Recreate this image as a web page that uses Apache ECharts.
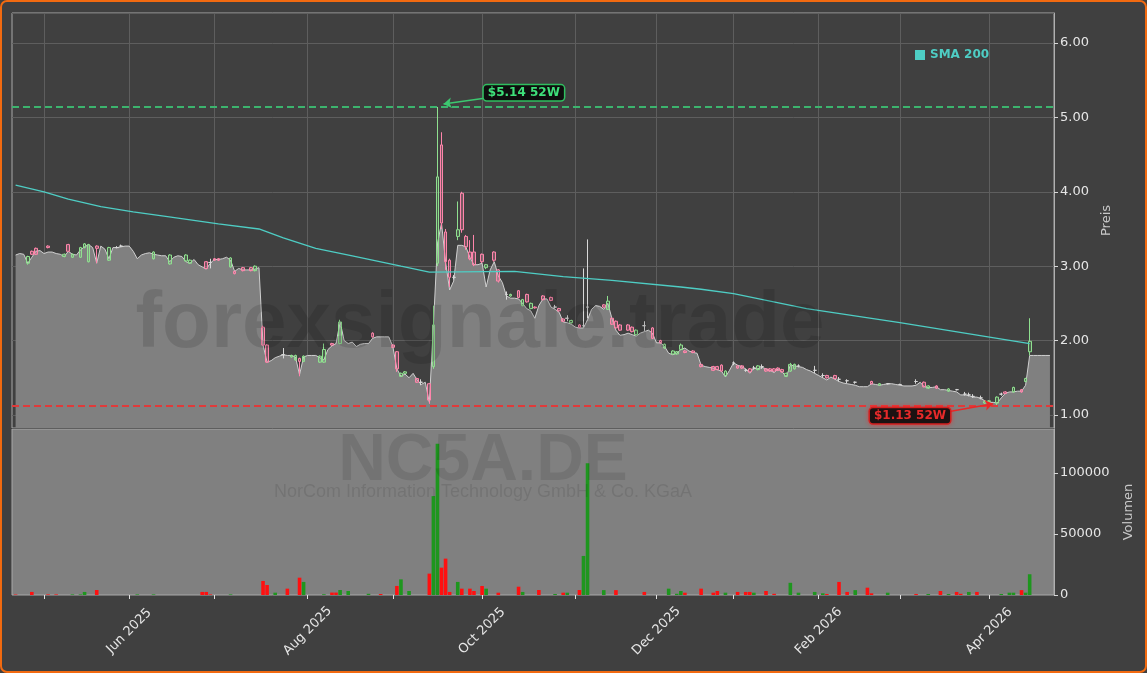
<!DOCTYPE html>
<html>
<head>
<meta charset="utf-8">
<script src="https://cdn.jsdelivr.net/npm/echarts@6/dist/echarts.min.js"></script>
<style>
html,body{margin:0;padding:0;background:#ffffff;}
#chart{width:1147px;height:673px;}
</style>
</head>
<body>
<div id="chart"></div>
<script>
// ---------- DATA ----------
const firstDay = '2025-04-22';
const dayCount = 257;
const holidays = ['2025-05-01','2025-12-24','2025-12-25','2025-12-26','2025-12-31','2026-01-01','2026-04-03','2026-04-06'];
const monthNames = ['Jan','Feb','Mar','Apr','May','Jun','Jul','Aug','Sep','Oct','Nov','Dec'];

// close-price line (area), one value per trading day
const closeLine = [
3.15,3.17,3.16,3.04,3.12,3.20,3.21,3.17,3.19,3.19,
3.17,3.16,3.13,3.20,3.16,3.15,3.22,3.26,3.29,3.25,
3.04,3.27,3.23,3.10,3.25,3.25,3.26,3.27,3.27,3.20,
3.10,3.15,3.17,3.18,3.16,3.15,3.14,3.14,3.06,3.12,
3.14,3.13,3.06,3.04,3.09,3.02,2.99,2.96,3.04,3.09,
3.09,3.10,3.12,3.08,2.93,2.97,2.95,2.95,2.95,2.96,
2.98,1.94,1.71,1.73,1.77,1.79,1.81,1.80,1.80,1.78,
1.54,1.78,1.80,1.80,1.80,1.77,1.74,1.88,1.93,1.96,
2.25,2.00,1.96,1.98,1.92,1.95,1.96,1.96,2.03,2.05,
2.05,2.05,2.05,1.92,1.62,1.52,1.55,1.50,1.56,1.47,
1.41,1.44,1.17,2.20,3.30,3.58,3.06,2.68,2.80,3.28,
3.28,3.26,3.12,3.02,3.02,3.04,2.72,2.95,3.06,2.87,
2.78,2.60,2.57,2.57,2.56,2.50,2.43,2.40,2.30,2.47,
2.56,2.56,2.45,2.42,2.38,2.25,2.24,2.22,2.18,2.17,
2.17,2.28,2.42,2.47,2.46,2.42,2.50,2.30,2.14,2.07,
2.08,2.10,2.08,2.06,2.10,2.12,2.14,2.10,1.97,1.97,
1.92,1.83,1.81,1.83,1.88,1.90,1.86,1.84,1.83,1.67,
1.65,1.64,1.63,1.61,1.59,1.51,1.60,1.70,1.67,1.65,
1.62,1.56,1.63,1.62,1.64,1.62,1.60,1.57,1.62,1.58,
1.51,1.67,1.66,1.65,1.64,1.61,1.59,1.56,1.53,1.50,
1.47,1.51,1.48,1.45,1.43,1.42,1.41,1.40,1.38,1.38,
1.38,1.42,1.41,1.40,1.41,1.42,1.42,1.41,1.40,1.39,
1.39,1.39,1.40,1.44,1.38,1.37,1.37,1.38,1.34,1.34,
1.33,1.32,1.31,1.27,1.27,1.26,1.24,1.24,1.22,1.19,
1.17,1.17,1.16,1.23,1.29,1.31,1.31,1.32,1.32,1.40,
1.80,1.80,1.80,1.80,1.80,1.80
];

// candles: [dayIndex, open, close, low, high]
const ohlc = [
[3,3.04,3.13,3.02,3.14],[4,3.20,3.16,3.15,3.21],[5,3.24,3.16,3.15,3.25],[8,3.27,3.25,3.24,3.28],
[12,3.13,3.16,3.12,3.17],[13,3.29,3.20,3.19,3.30],[14,3.12,3.16,3.11,3.17],[16,3.12,3.25,3.11,3.26],
[17,3.25,3.30,3.24,3.31],[18,3.06,3.29,3.05,3.30],[20,3.27,3.24,3.04,3.28],[23,3.08,3.25,3.07,3.26],
[25,3.25,3.25,3.24,3.27],[26,3.27,3.27,3.26,3.29],[34,3.10,3.19,3.09,3.20],[38,3.03,3.15,3.02,3.16],
[42,3.07,3.15,3.06,3.16],[43,3.04,3.08,3.03,3.09],[47,3.06,2.97,2.96,3.07],[48,3.05,3.05,2.97,3.10],
[49,3.10,3.08,3.07,3.11],[50,3.10,3.08,3.07,3.11],[53,2.99,3.11,2.98,3.12],[54,2.93,2.90,2.89,2.94],
[56,2.98,2.94,2.93,2.99],[58,2.98,2.94,2.93,2.99],[59,2.94,3.00,2.93,3.01],[61,2.18,1.94,1.93,2.20],
[62,1.94,1.71,1.70,1.95],[66,1.81,1.81,1.76,1.90],[68,1.78,1.80,1.77,1.81],[69,1.74,1.80,1.73,1.81],
[70,1.76,1.72,1.52,1.77],[71,1.72,1.79,1.71,1.80],[75,1.71,1.79,1.70,1.80],[76,1.71,1.88,1.70,1.96],
[78,1.96,1.94,1.93,1.97],[80,1.96,2.25,1.95,2.28],[88,2.10,2.05,2.04,2.11],[93,1.94,1.91,1.90,1.95],
[94,1.85,1.62,1.58,1.86],[95,1.52,1.56,1.51,1.57],[96,1.56,1.58,1.55,1.59],[99,1.49,1.44,1.43,1.50],
[100,1.44,1.44,1.40,1.48],[102,1.42,1.20,1.15,1.43],[103,1.65,2.21,1.62,2.47],[104,3.04,4.20,3.00,5.14],
[105,4.63,3.58,3.50,4.80],[106,3.46,3.06,2.95,3.50],[107,3.08,2.85,2.72,3.10],[108,2.85,2.85,2.82,2.88],
[109,3.40,3.49,3.35,3.87],[110,3.98,3.49,3.45,4.00],[111,3.40,3.26,3.22,3.42],[112,3.19,3.10,3.08,3.35],
[113,3.19,3.02,3.00,3.42],[115,3.16,3.06,3.04,3.17],[116,2.98,3.02,2.96,3.03],[118,3.19,3.08,3.06,3.20],
[119,2.95,2.80,2.78,2.96],[121,2.62,2.62,2.55,2.66],[122,2.60,2.62,2.59,2.63],[124,2.67,2.58,2.57,2.68],
[125,2.47,2.55,2.46,2.56],[126,2.62,2.52,2.51,2.63],[127,2.43,2.50,2.42,2.51],[128,2.45,2.44,2.43,2.46],
[130,2.60,2.55,2.54,2.61],[132,2.58,2.54,2.53,2.59],[133,2.45,2.45,2.43,2.48],[134,2.43,2.40,2.39,2.44],
[135,2.29,2.26,2.25,2.30],[136,2.30,2.30,2.26,2.34],[137,2.24,2.27,2.23,2.28],[139,2.21,2.18,2.17,2.22],
[140,2.20,2.20,2.18,2.97],[141,2.45,2.45,2.30,3.36],[145,2.48,2.45,2.44,2.49],[146,2.42,2.53,2.41,2.60],
[147,2.30,2.22,2.21,2.31],[148,2.26,2.17,2.16,2.27],[149,2.21,2.14,2.13,2.22],[151,2.21,2.14,2.13,2.22],
[152,2.18,2.12,2.11,2.19],[153,2.08,2.14,2.07,2.15],[155,2.20,2.20,2.13,2.26],[157,2.17,2.03,2.02,2.18],
[159,2.00,1.97,1.96,2.01],[160,1.90,1.95,1.89,1.96],[162,1.82,1.86,1.81,1.87],[163,1.82,1.85,1.81,1.86],
[164,1.88,1.94,1.87,1.96],[165,1.86,1.84,1.83,1.87],[167,1.86,1.84,1.83,1.87],[169,1.68,1.65,1.64,1.69],
[172,1.65,1.60,1.59,1.66],[173,1.65,1.61,1.60,1.66],[174,1.67,1.59,1.58,1.68],[175,1.53,1.59,1.52,1.60],
[177,1.70,1.70,1.67,1.72],[178,1.66,1.63,1.62,1.67],[179,1.66,1.63,1.62,1.67],[180,1.60,1.60,1.58,1.62],
[181,1.62,1.58,1.57,1.63],[182,1.63,1.63,1.61,1.66],[183,1.61,1.66,1.60,1.67],[184,1.65,1.65,1.62,1.68],
[185,1.62,1.59,1.58,1.63],[186,1.62,1.59,1.58,1.63],[187,1.62,1.59,1.58,1.63],[188,1.63,1.60,1.59,1.64],
[189,1.61,1.58,1.57,1.62],[190,1.52,1.56,1.51,1.57],[191,1.59,1.68,1.58,1.70],[192,1.62,1.68,1.61,1.69],
[193,1.66,1.66,1.64,1.68],[197,1.60,1.60,1.56,1.66],[199,1.53,1.53,1.50,1.56],[200,1.53,1.50,1.49,1.54],
[202,1.53,1.49,1.48,1.54],[203,1.48,1.48,1.45,1.51],[205,1.46,1.46,1.43,1.48],[207,1.44,1.44,1.42,1.45],
[211,1.45,1.42,1.41,1.46],[213,1.40,1.42,1.39,1.43],[215,1.42,1.42,1.41,1.43],[218,1.41,1.41,1.40,1.42],
[222,1.45,1.45,1.42,1.48],[224,1.44,1.38,1.37,1.45],[225,1.36,1.39,1.35,1.40],[227,1.39,1.36,1.35,1.40],
[230,1.32,1.35,1.31,1.36],[232,1.34,1.34,1.33,1.35],[234,1.28,1.28,1.26,1.31],[235,1.27,1.27,1.25,1.30],
[236,1.25,1.25,1.23,1.28],[238,1.23,1.23,1.21,1.26],[239,1.16,1.18,1.15,1.19],[240,1.18,1.19,1.17,1.20],
[242,1.16,1.24,1.13,1.25],[243,1.28,1.28,1.26,1.30],[244,1.31,1.29,1.28,1.32],[246,1.31,1.37,1.30,1.38],
[248,1.34,1.31,1.30,1.35],[249,1.45,1.49,1.44,1.50],[250,1.85,1.99,1.80,2.30]
];

// volume: [dayIndex, volume, direction (1 up, -1 down)]
const volume = [
[0,400,-1],[4,2500,-1],[8,500,-1],[10,500,-1],[14,500,1],[16,500,1],[17,2500,1],[20,4100,-1],
[30,500,1],[34,500,1],[46,2500,-1],[47,2500,-1],[48,500,-1],[53,500,1],[61,11500,-1],[62,8200,-1],
[64,1900,1],[67,5200,-1],[70,14200,-1],[71,10700,1],[76,600,1],[78,2000,-1],[79,2000,-1],[80,4100,1],
[82,3300,1],[87,1000,1],[90,800,-1],[94,7400,-1],[95,12800,1],[97,3300,1],[102,17500,-1],[103,81000,1],
[104,124000,1],[105,22400,-1],[106,29800,-1],[107,2500,-1],[109,10700,1],[110,5200,-1],[112,5200,-1],[113,3300,-1],
[115,7400,-1],[116,5200,1],[119,1900,-1],[124,6800,-1],[125,2500,1],[129,4100,-1],[133,800,1],[135,1900,-1],
[136,1900,1],[139,4100,-1],[140,32000,1],[141,108000,1],[145,4000,1],[148,4000,-1],[155,2500,-1],[161,5200,1],
[163,1000,1],[164,3300,1],[165,1900,-1],[169,5200,-1],[172,1900,-1],[173,3300,-1],[175,1900,1],[178,2500,-1],
[180,2500,-1],[181,2500,-1],[182,1900,1],[185,3300,-1],[187,1000,-1],[191,10000,1],[193,1900,1],[197,2500,1],
[199,1400,1],[200,800,-1],[203,10700,-1],[205,2500,-1],[207,4000,1],[210,6000,-1],[211,1400,-1],[215,1900,1],
[222,800,-1],[225,800,1],[228,3300,-1],[230,800,1],[232,2500,-1],[233,1000,-1],[235,2500,1],[237,2500,-1],
[243,800,1],[245,1900,1],[246,1900,1],[248,4000,-1],[249,1900,1],[250,17000,1]
];

// SMA 200 anchor readings: [dayIndex, value]
const sma200 = [
[0,4.09],[7,4.00],[13,3.90],[21,3.80],[29,3.73],[37,3.67],[50,3.57],[60,3.50],[66,3.38],[74,3.24],
[83,3.14],[95,3.00],[102,2.92],[123,2.93],[135,2.86],[147,2.81],[164,2.72],[169,2.69],[177,2.63],
[195,2.43],[218,2.24],[250,1.96]
];

// ---------- BUILD ----------
function buildDates(){
  const out=[]; const p=firstDay.split('-').map(Number);
  const d=new Date(Date.UTC(p[0],p[1]-1,p[2]));
  while(out.length<dayCount){
    const wd=d.getUTCDay(); const s=d.toISOString().slice(0,10);
    if(wd!==0&&wd!==6&&holidays.indexOf(s)<0) out.push(s);
    d.setUTCDate(d.getUTCDate()+1);
  }
  return out;
}
const dates=buildDates();
const monthStarts=[];
for(let i=1;i<dates.length;i++){ if(dates[i].slice(0,7)!==dates[i-1].slice(0,7)) monthStarts.push(i); }
const labelDays=monthStarts.filter(i=>(+dates[i].slice(5,7))%2===0);
function dayLabel(v){ const d=dates[Math.round(v)]; if(!d) return ''; return monthNames[+d.slice(5,7)-1]+' '+d.slice(0,4); }

let hiIdx=0, loIdx=0, hi=-Infinity, lo=Infinity;
ohlc.forEach(r=>{ if(r[4]>hi){hi=r[4];hiIdx=r[0];} if(r[3]<lo){lo=r[3];loIdx=r[0];} });

const FONT='DejaVu Sans';
const UP_BORDER='#8fe08f', DOWN_BORDER='#ff85ab';

const candleData=ohlc.map(r=>{
  const item={value:[r[0],r[1],r[2],r[3],r[4]]};
  if(r[1]===r[2]) item.itemStyle={borderColor:'#d8d8d8',borderColor0:'#d8d8d8',color:'#d8d8d8',color0:'#d8d8d8'};
  return item;
});

const L=12, R=93;
const option={
  animation:false,
  backgroundColor:'#404040',
  textStyle:{fontFamily:FONT},
  legend:{
    data:['SMA 200'], left:910, top:44, icon:'rect', itemWidth:10, itemHeight:10, itemGap:6,
    textStyle:{color:'#4ecdc4',fontWeight:'bold',fontSize:12,fontFamily:FONT}
  },
  grid:[
    {left:L,right:R,top:13,height:415,show:true,backgroundColor:'#404040',borderColor:'#a8a8a8',borderWidth:1,outerBoundsMode:'none'},
    {left:L,right:R,top:429,height:166,show:true,backgroundColor:'#808080',borderColor:'#a8a8a8',borderWidth:1,outerBoundsMode:'none'}
  ],
  xAxis:[
    {type:'value',gridIndex:0,min:-0.89,max:256.0,
     axisLine:{show:false,onZero:false},axisLabel:{show:false},
     axisTick:{show:false,customValues:monthStarts},
     splitLine:{show:true,lineStyle:{color:'#5e5e5e',width:1}}},
    {type:'value',gridIndex:1,min:-0.89,max:256.0,
     axisLine:{show:false,onZero:false},
     axisTick:{show:true,customValues:monthStarts,length:4,lineStyle:{color:'#e0e0e0'}},
     axisLabel:{customValues:labelDays,formatter:dayLabel,rotate:45,align:'center',verticalAlign:'middle',
       margin:36,color:'#e6e6e6',fontSize:13,fontFamily:FONT},
     splitLine:{show:false}}
  ],
  yAxis:[
    {type:'value',gridIndex:0,position:'right',min:0.825,max:6.403,minInterval:1,maxInterval:1,splitNumber:5,
     axisLine:{show:true,onZero:false,lineStyle:{color:'#b0b0b0'}},
     axisTick:{show:true,length:4,lineStyle:{color:'#d8d8d8'}},
     axisLabel:{formatter:v=>v.toFixed(2),showMinLabel:false,showMaxLabel:false,margin:6,color:'#e6e6e6',fontSize:13,fontFamily:FONT},
     splitLine:{show:true,lineStyle:{color:'#5e5e5e',width:1}},
     name:'Preis',nameLocation:'middle',nameGap:46,nameRotate:90,
     nameTextStyle:{color:'#c8c8c8',fontSize:13,fontFamily:FONT}},
    {type:'value',gridIndex:1,position:'right',min:0,max:136000,minInterval:50000,maxInterval:50000,
     axisLine:{show:true,onZero:false,lineStyle:{color:'#b0b0b0'}},
     axisTick:{show:true,length:4,lineStyle:{color:'#d8d8d8'}},
     axisLabel:{formatter:v=>String(v),showMaxLabel:false,margin:6,color:'#e6e6e6',fontSize:13,fontFamily:FONT},
     splitLine:{show:false},
     name:'Volumen',nameLocation:'middle',nameGap:68,nameRotate:90,
     nameTextStyle:{color:'#c8c8c8',fontSize:13,fontFamily:FONT}}
  ],
  series:[
    {type:'line',name:'Close',xAxisIndex:0,yAxisIndex:0,data:closeLine.map((v,i)=>[i,v]),
     showSymbol:false,symbol:'none',z:2,
     lineStyle:{color:'#cfcfcf',width:1},
     areaStyle:{color:'#808080',opacity:1,origin:'start'}},
    {type:'line',name:'SMA 200',xAxisIndex:0,yAxisIndex:0,data:sma200,showSymbol:false,symbol:'none',z:4,
     color:'#4ecdc4',lineStyle:{color:'#4ecdc4',width:1.3}},
    {type:'candlestick',name:'OHLC',xAxisIndex:0,yAxisIndex:0,data:candleData,barWidth:3.2,z:3,
     itemStyle:{color:'rgba(144,238,144,0.18)',color0:'rgba(255,140,175,0.30)',borderColor:UP_BORDER,borderColor0:DOWN_BORDER,borderColorDoji:'#d8d8d8',borderWidth:1},
     markLine:{silent:true,symbol:['none','none'],animation:false,
       data:[
         {yAxis:hi,label:{show:false},lineStyle:{color:'#3cb46e',type:[7,4],width:1.8}},
         {yAxis:lo,label:{show:false},lineStyle:{color:'#e03a3a',type:[7,4],width:1.8}},
         [{coord:[hiIdx+12,hi+0.12],symbol:'none',lineStyle:{color:'#3cc870',width:1.6,type:'solid'},label:{show:false}},
          {coord:[hiIdx+1.5,hi+0.04],symbol:'arrow',symbolSize:8}],
         [{coord:[loIdx-11.4,lo-0.08],symbol:'none',lineStyle:{color:'#e82828',width:1.6,type:'solid'},label:{show:false}},
          {coord:[loIdx-1,lo+0.02],symbol:'arrow',symbolSize:8}]
       ]},
     markPoint:{silent:true,symbol:'rect',symbolSize:1,itemStyle:{color:'transparent'},animation:false,
       data:[
         {coord:[hiIdx+21.3,hi+0.19],label:{show:true,position:'inside',formatter:'$'+hi.toFixed(2)+' 52W',
           color:'#3ee07a',fontWeight:'bold',fontSize:12,fontFamily:FONT,backgroundColor:'#0e0e0e',
           borderColor:'#2fbf5f',borderWidth:1.5,borderRadius:3,padding:[2,4,1,4]}},
         {coord:[loIdx-21.5,lo-0.14],label:{show:true,position:'inside',formatter:'$'+lo.toFixed(2)+' 52W',
           color:'#e82a2a',fontWeight:'bold',fontSize:12,fontFamily:FONT,backgroundColor:'#1c1212',
           borderColor:'#c81e1e',borderWidth:1.5,borderRadius:3,padding:[2,4,1,4],
           shadowColor:'rgba(255,40,40,0.6)',shadowBlur:4}}
       ]}},
    {type:'bar',name:'Volumen',xAxisIndex:1,yAxisIndex:1,barWidth:3.6,z:3,
     data:volume.map(r=>({value:[r[0],r[1]],itemStyle:{color:r[2]>0?'#1e961e':'#ff1010'}}))}
  ],
  graphic:[
    {type:'text',z:100,silent:true,x:480,y:325,style:{text:'forexsignale.trade',fill:'rgba(0,0,0,0.12)',
      font:'bold 80px "Liberation Sans"',textAlign:'center',textVerticalAlign:'middle'}},
    {type:'text',z:100,silent:true,x:483,y:462,style:{text:'NC5A.DE',fill:'rgba(0,0,0,0.10)',
      font:'bold 66px "Liberation Sans"',textAlign:'center',textVerticalAlign:'middle'}},
    {type:'text',z:100,silent:true,x:483,y:492,style:{text:'NorCom Information Technology GmbH & Co. KGaA',fill:'rgba(0,0,0,0.10)',
      font:'18px "Liberation Sans"',textAlign:'center',textVerticalAlign:'middle'}},
    {type:'rect',z:200,silent:true,shape:{x:1,y:1,width:1145,height:671,r:6},style:{fill:'none',stroke:'#f26a10',lineWidth:2}}
  ]
};
const chart=echarts.init(document.getElementById('chart'),null,{renderer:'canvas'});
chart.setOption(option);
</script>
</body>
</html>
